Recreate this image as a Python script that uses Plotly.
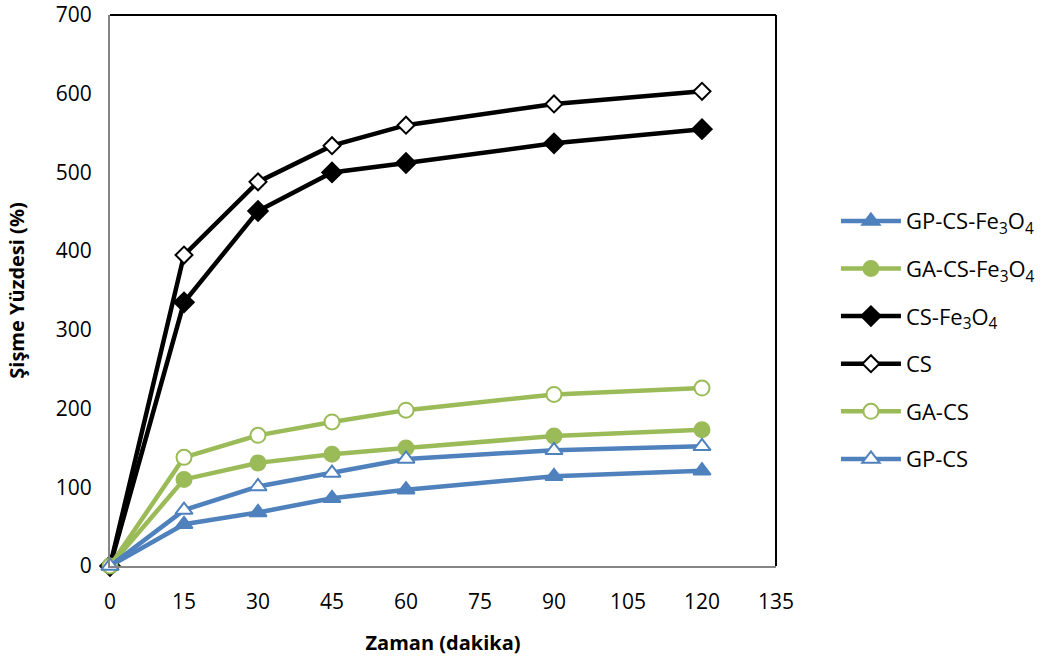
import plotly.graph_objects as go

time_min = [0, 15, 30, 45, 60, 90, 120]

gp_cs_fe3o4 = [0, 53, 68, 86, 97, 114, 121]
ga_cs_fe3o4 = [0, 110, 131, 142, 150, 165, 173]
cs_fe3o4 = [0, 335, 451, 500, 512, 537, 555]
cs = [0, 395, 488, 534, 560, 587, 603]
ga_cs = [0, 138, 166, 183, 198, 218, 226]
gp_cs = [0, 71, 101, 118, 136, 147, 152]

x_ticks = [0, 15, 30, 45, 60, 75, 90, 105, 120, 135]
y_ticks = [0, 100, 200, 300, 400, 500, 600, 700]

BLUE = "#4F81BD"
GREEN = "#9BBB59"
BLACK = "#000000"

series = [
    ("GP-CS-Fe<sub>3</sub>O<sub>4</sub>", gp_cs_fe3o4, BLUE, "triangle-up", BLUE, 15),
    ("GA-CS-Fe<sub>3</sub>O<sub>4</sub>", ga_cs_fe3o4, GREEN, "circle", GREEN, 15),
    ("CS-Fe<sub>3</sub>O<sub>4</sub>", cs_fe3o4, BLACK, "diamond", BLACK, 15),
    ("CS", cs, BLACK, "diamond", "white", 13),
    ("GA-CS", ga_cs, GREEN, "circle", "white", 15),
    ("GP-CS", gp_cs, BLUE, "triangle-up", "white", 15),
]

fig = go.Figure()
for i, (name, vals, color, symbol, fill, size) in enumerate(series):
    fig.add_trace(go.Scatter(
        x=time_min, y=vals, name=name, mode="lines+markers",
        line=dict(color=color, width=4.5),
        marker=dict(symbol=symbol, size=size, color=fill,
                    line=dict(color=color, width=2)),
        legendgroup=f"g{i}",
        cliponaxis=False,
    ))

font_family = "'Open Sans', Lato, sans-serif"

fig.update_layout(
    width=1060, height=661,
    paper_bgcolor="white", plot_bgcolor="white",
    margin=dict(l=110, r=284, t=15, b=95),
    font=dict(family=font_family, color="black"),
    showlegend=True,
    legend=dict(
        x=1.09, y=0.41, xanchor="left", yanchor="middle",
        font=dict(size=22, family=font_family),
        tracegroupgap=16, itemwidth=60,
        bgcolor="rgba(0,0,0,0)",
    ),
    xaxis=dict(
        range=[0, 135], tickvals=x_ticks, ticks="",
        showgrid=False, zeroline=False, automargin=False,
        showline=True, linecolor="#868686", linewidth=2,
        tickfont=dict(size=21), ticklabelstandoff=16,
        title=dict(text="<b>Zaman (dakika)</b>", font=dict(size=20), standoff=22),
    ),
    yaxis=dict(
        range=[0, 700], tickvals=y_ticks, ticks="",
        showgrid=False, zeroline=False, automargin=False,
        showline=True, linecolor="#868686", linewidth=2,
        tickfont=dict(size=21), ticklabelstandoff=12,
        title=dict(text="<b>Şişme Yüzdesi (%)</b>", font=dict(size=20), standoff=26),
    ),
)

# Plot-area frame on the top and right sides
fig.add_shape(type="line", xref="paper", yref="paper", x0=0, x1=1, y0=1, y1=1,
              line=dict(color="black", width=2))
fig.add_shape(type="line", xref="paper", yref="paper", x0=1, x1=1, y0=0, y1=1,
              line=dict(color="black", width=2))

fig.write_html("out.html")
